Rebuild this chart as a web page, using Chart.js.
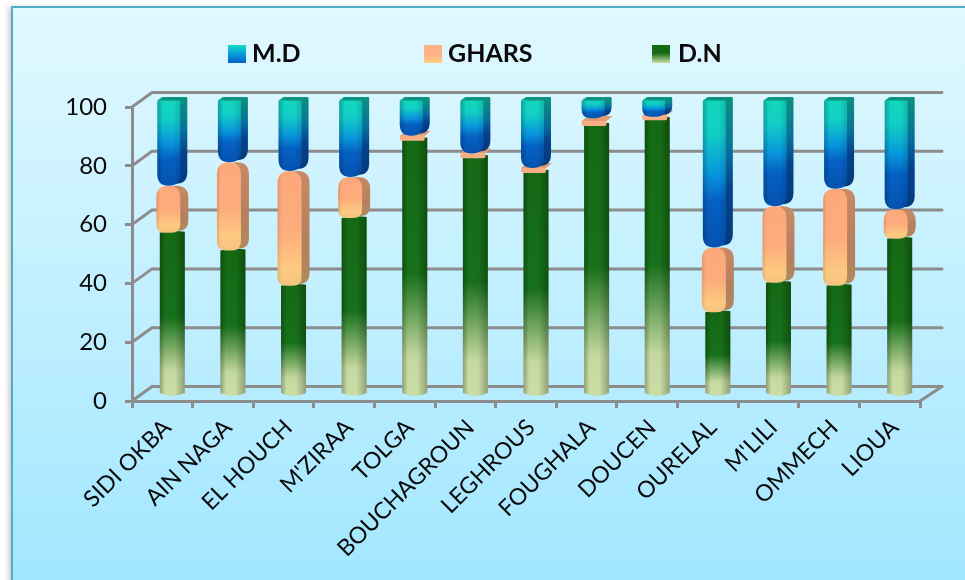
<!DOCTYPE html>
<html>
<head>
<meta charset="utf-8">
<title>M.D / GHARS / D.N</title>
<style>
    html, body { margin: 0; height: 100%; background: #fff; overflow: hidden; }
    #panel {
        position: absolute; left: 11px; top: 6px; width: 980px; height: 600px;
        border: 2px solid #4fadc8;
        box-shadow: -3px 1px 5px rgba(0, 0, 0, 0.18);
        background: linear-gradient(to bottom, #e1f8ff 0%, #9fe6ff 100%);
    }
    #chart { position: absolute; left: 0; top: 0; }
</style>
<script src="https://cdn.jsdelivr.net/npm/chart.js@4/dist/chart.umd.min.js"></script>
</head>
<body>
<div id="panel"></div>
<div style="position:absolute;left:0;top:0;width:965px;height:580px"><canvas id="chart"></canvas></div>
<script>
const categories = ['SIDI OKBA', 'AIN NAGA', 'EL HOUCH', "M'ZIRAA", 'TOLGA', 'BOUCHAGROUN', 'LEGHROUS',
    'FOUGHALA', 'DOUCEN', 'OURELAL', "M'LILI", 'OMMECH', 'LIOUA'];
const dnValues = [55, 49, 37, 60, 87, 81, 76, 92, 94, 28, 38, 37, 53];
const gharsValues = [16, 30, 39, 14, 1, 1, 1, 2, 0.5, 22, 26, 33, 10];
const mdValues = [29, 21, 24, 26, 12, 18, 23, 6, 5.5, 50, 36, 30, 37];
const yTicks = [0, 20, 40, 60, 80, 100];

const GREY = '#8c8c8c';
const DEPTH_X = 20, DEPTH_Y = -14.5;   // wall offset from the front plane
const BAR_DX = 10, BAR_DY = -6.5;      // bars stand halfway into the floor

function stops(ctx, x0, y0, x1, y1, list) {
    const g = ctx.createLinearGradient(x0, y0, x1, y1);
    list.forEach(s => g.addColorStop(s[0], s[1]));
    return g;
}

function roundedPath(ctx, x, y, w, h, rTop, rBottom) {
    const rt = Math.min(rTop, h / 2, w / 2), rb = Math.min(rBottom, h / 2, w / 2);
    ctx.beginPath();
    ctx.moveTo(x + rt, y);
    ctx.lineTo(x + w - rt, y);
    ctx.quadraticCurveTo(x + w, y, x + w, y + rt);
    ctx.lineTo(x + w, y + h - rb);
    ctx.quadraticCurveTo(x + w, y + h, x + w - rb, y + h);
    ctx.lineTo(x + rb, y + h);
    ctx.quadraticCurveTo(x, y + h, x, y + h - rb);
    ctx.lineTo(x, y + rt);
    ctx.quadraticCurveTo(x, y, x + rt, y);
    ctx.closePath();
}

// horizontal shading laid over a front face to make it look round
function shade(ctx, x, w, dark) {
    return stops(ctx, x, 0, x + w, 0, [
        [0, 'rgba(0,0,0,' + dark + ')'],
        [0.22, 'rgba(0,0,0,0)'],
        [0.6, 'rgba(0,0,0,0)'],
        [1, 'rgba(0,0,0,' + dark + ')']
    ]);
}

function drawCylinder(ctx, cx, top, bottom) {
    const w = 25, x = cx - w / 2;
    const path = () => {
        ctx.beginPath();
        ctx.moveTo(x, top);
        ctx.quadraticCurveTo(cx, top - 3, x + w, top - 1);
        ctx.lineTo(x + w, bottom);
        ctx.quadraticCurveTo(cx, bottom + 6, x, bottom);
        ctx.closePath();
    };
    path();
    ctx.fillStyle = stops(ctx, 0, bottom, 0, top, [
        [0, '#c9dda4'], [0.14, '#c4d99f'], [0.47, '#17701a'], [1, '#156a14']
    ]);
    ctx.fill();
    path();
    ctx.fillStyle = shade(ctx, x, w, 0.28);
    ctx.fill();
}

function drawPill(ctx, cx, top, bottom) {
    const w = 24, x = cx - 16, h = bottom - top;
    if (h < 10) {
        // too short to round off, a flat slab sitting on the green bar
        const front = bottom - 3;
        ctx.fillStyle = '#e39c72';
        ctx.beginPath();
        ctx.moveTo(x + 1, front);
        ctx.lineTo(x + 8, front - 5);
        ctx.lineTo(x + w + 8, front - 5);
        ctx.lineTo(x + w + 2, front);
        ctx.closePath();
        ctx.fill();
        ctx.fillStyle = '#f8ae85';
        roundedPath(ctx, x + 1, front, w + 1, 5, 1, 2);
        ctx.fill();
        return;
    }
    ctx.fillStyle = stops(ctx, 0, top, 0, bottom, [[0, '#c98a66'], [0.6, '#b57f5e'], [1, '#b08a5c']]);
    roundedPath(ctx, x + 8, top, w, h - 2, 12, 10);
    ctx.fill();
    roundedPath(ctx, x, top, w, h, 12, 9);
    ctx.fillStyle = stops(ctx, 0, top, 0, bottom, [
        [0, '#fca87c'], [0.5, '#fdab7c'], [0.85, '#fdc981'], [1, '#f4c480']
    ]);
    ctx.fill();
    roundedPath(ctx, x, top, w, h, 12, 9);
    ctx.fillStyle = stops(ctx, x, 0, x + w, 0, [
        [0, 'rgba(120,70,30,0.16)'], [0.15, 'rgba(0,0,0,0)'], [1, 'rgba(0,0,0,0)']
    ]);
    ctx.fill();
}

function drawCap(ctx, cx, top, bottom) {
    const w = 23, x = cx - 15, h = bottom - top, rb = Math.min(16, h * 0.8);
    const colours = (dim) => stops(ctx, 0, top, 0, bottom, dim ? [
        [0, '#0a8f80'], [0.35, '#06709c'], [0.6, '#04428c'], [1, '#033a7c']
    ] : [
        [0, '#12d6bc'], [0.22, '#12cfc6'], [0.5, '#0895dc'], [0.68, '#0561c4'], [1, '#0552b0']
    ]);
    // lid
    ctx.beginPath();
    ctx.moveTo(x, top);
    ctx.lineTo(x + 5, top - 3.5);
    ctx.lineTo(x + w + 7, top - 3.5);
    ctx.lineTo(x + w, top + 3);
    ctx.closePath();
    ctx.fillStyle = '#099c84';
    ctx.fill();
    // side
    roundedPath(ctx, x + 7, top - 3, w, h + 1, 1, rb);
    ctx.fillStyle = colours(true);
    ctx.fill();
    // front
    roundedPath(ctx, x, top, w, h, 1, rb);
    ctx.fillStyle = colours(false);
    ctx.fill();
    roundedPath(ctx, x, top, w, h, 1, rb);
    ctx.fillStyle = stops(ctx, x, 0, x + w, 0, [
        [0, 'rgba(0,20,60,0.25)'], [0.25, 'rgba(0,0,0,0)'], [0.7, 'rgba(0,0,0,0)'], [1, 'rgba(0,20,60,0.15)']
    ]);
    ctx.fill();
}

const drawers = [drawCylinder, drawPill, drawCap];

const depthPlugin = {
    id: 'depth',
    beforeDatasetsDraw(chart) {
        const ctx = chart.ctx, y = chart.scales.y, area = chart.chartArea;
        ctx.save();
        ctx.strokeStyle = GREY;
        ctx.lineWidth = 3;
        ctx.lineCap = 'round';
        yTicks.forEach(v => {
            const py = y.getPixelForValue(v);
            ctx.beginPath();
            ctx.moveTo(area.left, py);
            ctx.lineTo(area.left + DEPTH_X, py + DEPTH_Y);
            ctx.lineTo(area.right + DEPTH_X + 2, py + DEPTH_Y);
            ctx.stroke();
        });
        ctx.beginPath();
        ctx.moveTo(area.right, area.bottom);
        ctx.lineTo(area.right + DEPTH_X + 2, area.bottom + DEPTH_Y);
        ctx.stroke();
        ctx.restore();
    },
    afterDatasetsDraw(chart) {
        const ctx = chart.ctx;
        ctx.save();
        categories.forEach((c, i) => {
            chart.data.datasets.forEach((ds, d) => {
                const bar = chart.getDatasetMeta(d).data[i];
                drawers[d](ctx, bar.x + BAR_DX, bar.y + BAR_DY, bar.base + BAR_DY);
            });
        });
        ctx.restore();
    },
    afterDraw(chart) {
        // legend row, drawn here so its spacing is independent of the layout boxes
        const ctx = chart.ctx;
        const boxes = [
            { d: 2, x: 228, gap: 24, top: '#12dcc8', bottom: '#0560c8' },
            { d: 1, x: 424, gap: 24, top: '#ffb084', bottom: '#ffd080' },
            { d: 0, x: 652, gap: 26, top: '#156a14', bottom: '#c9dda4' }
        ];
        ctx.save();
        ctx.font = 'bold 25px Lato';
        ctx.textBaseline = 'middle';
        boxes.forEach(b => {
            ctx.fillStyle = stops(ctx, 0, 45, 0, 63, [[0, b.top], [b.d === 0 ? 0.45 : 0.55, b.d === 2 ? '#0896dc' : b.top], [1, b.bottom]]);
            ctx.fillRect(b.x, 45, 18, 18);
            ctx.fillStyle = '#0a0a0a';
            ctx.fillText(chart.data.datasets[b.d].label, b.x + b.gap, 54);
        });
        ctx.restore();
    }
};

new Chart(document.getElementById('chart'), {
    type: 'bar',
    data: {
        labels: categories,
        datasets: [
            { label: 'D.N', data: dnValues, backgroundColor: 'transparent', borderWidth: 0 },
            { label: 'GHARS', data: gharsValues, backgroundColor: 'transparent', borderWidth: 0 },
            { label: 'M.D', data: mdValues, backgroundColor: 'transparent', borderWidth: 0 }
        ]
    },
    options: {
        responsive: true,
        maintainAspectRatio: false,
        animation: false,
        layout: { padding: { top: 107, right: 45 } },
        plugins: { legend: { display: false }, tooltip: { enabled: false } },
        scales: {
            x: {
                stacked: true,
                afterFit: scale => { scale.height = 179; },
                border: { color: GREY, width: 3 },
                grid: { drawOnChartArea: false, color: GREY, lineWidth: 3, tickLength: 7, offset: true },
                ticks: {
                    color: '#0a0a0a', font: { family: 'Lato', size: 23 },
                    minRotation: 45, maxRotation: 45, padding: 6, labelOffset: 5, autoSkip: false
                }
            },
            y: {
                stacked: true,
                min: 0,
                max: 100,
                afterFit: scale => { scale.width = 132; },
                afterBuildTicks: scale => { scale.ticks = yTicks.map(v => ({ value: v })); },
                border: { color: GREY, width: 3 },
                grid: { drawOnChartArea: false, color: GREY, lineWidth: 3, tickLength: 7 },
                ticks: { color: '#0a0a0a', font: { family: 'Lato', size: 24 }, padding: 18 }
            }
        }
    },
    plugins: [depthPlugin]
});
</script>
</body>
</html>
